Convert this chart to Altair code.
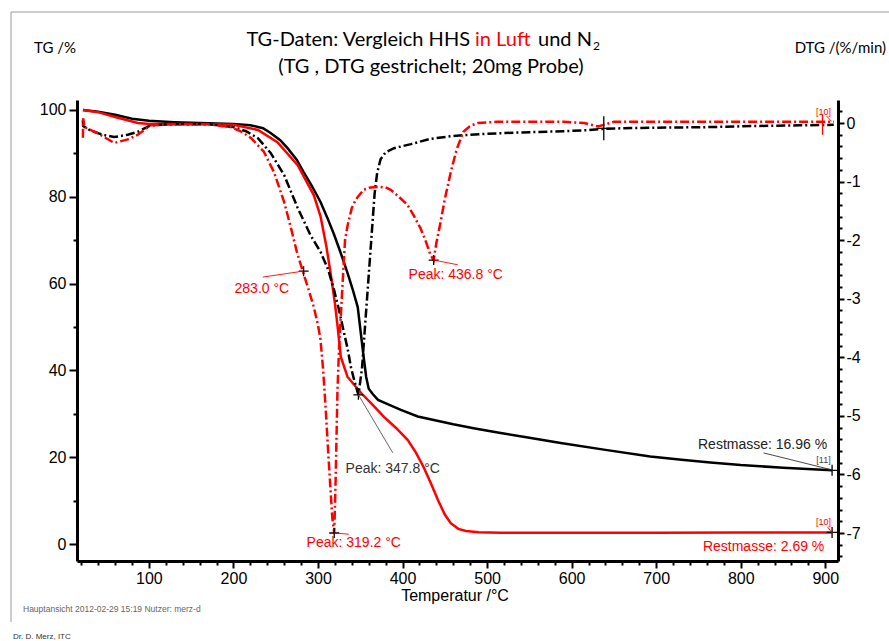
import altair as alt
import pandas as pd

# ---------------- data ----------------
# TG curve, N2 (black, solid) -- left axis, %
tg_n2_T = [22, 40, 60, 80, 100, 130, 160, 200, 220, 235, 244, 255, 264, 275, 283, 293, 303, 311, 319, 327,
           335, 341, 347, 351, 354, 357, 360, 365, 371, 383, 398, 418, 437, 460, 484, 516, 550, 587, 640, 693,
           730, 764, 800, 850, 908]
tg_n2_v = [100, 99.6, 98.9, 98.0, 97.5, 97.2, 97.0, 96.8, 96.5, 95.8, 94.7, 93.1, 91.2, 88.5, 85.7, 82.4,
           78.8, 75.2, 71.3, 67.0, 62.4, 58.7, 54.6, 48.0, 43.1, 38.5, 35.8, 34.5, 33.2, 32.2, 30.9, 29.4,
           28.6, 27.6, 26.7, 25.6, 24.5, 23.3, 21.7, 20.2, 19.4, 18.8, 18.2, 17.6, 17.0]

# TG curve, air (red, solid)
tg_air_T = [22, 40, 60, 87, 100, 130, 160, 200, 229, 252, 276, 295, 303, 310, 316, 320, 323, 327, 335, 351,
            365, 378, 392, 406, 416, 425, 434, 442, 450, 457, 466, 475, 490, 516, 600, 700, 800, 908]
tg_air_v = [100, 99.5, 98.4, 97.0, 96.8, 96.8, 96.8, 96.6, 95.4, 92.6, 87.3, 80.4, 75.5, 68.5, 61.0, 55.5,
            50.5, 43.1, 38.5, 34.8, 32.0, 29.3, 26.8, 24.0, 21.0, 17.7, 13.8, 10.1, 6.8, 4.8, 3.5, 3.0, 2.7,
            2.6, 2.6, 2.6, 2.65, 2.69]

# DTG curve, N2 (black, dash-dot) -- right axis, %/min
dtg_n2_T = [22, 22.3, 30, 45, 59, 75, 87, 102, 130, 170, 200, 215, 229, 244, 260, 276, 291, 303, 312, 319,
            325, 330, 335, 339, 343, 347.8, 352, 355, 358, 361, 364, 367, 370, 374, 380, 390, 410, 433, 460,
            492, 540, 590, 620, 638, 660, 700, 760, 820, 870, 910]
dtg_n2_v = [0.05, -0.05, -0.12, -0.2, -0.24, -0.2, -0.15, -0.04, -0.02, -0.02, -0.07, -0.14, -0.26, -0.51,
            -0.89, -1.45, -1.91, -2.2, -2.5, -2.85, -3.2, -3.53, -3.85, -4.17, -4.4, -4.64, -4.2, -3.6, -3.0,
            -2.4, -1.8, -1.2, -0.85, -0.62, -0.5, -0.43, -0.36, -0.27, -0.22, -0.19, -0.16, -0.14, -0.12,
            -0.1, -0.09, -0.08, -0.07, -0.05, -0.04, -0.03]

# DTG curve, air (red, dash-dot)
dtg_air_T = [22, 22.3, 24, 40, 59, 75, 87, 102, 130, 170, 197, 210, 221, 236, 248, 260, 268, 275, 282, 289,
             295, 300, 303, 306, 309, 312, 315, 317, 319.2, 320, 321, 322, 323, 325, 327, 330, 332, 335, 340,
             345, 354, 362, 371, 380, 386, 395, 406, 414, 421, 427, 433, 436.8, 440, 445, 450, 457, 464, 472,
             480, 489, 512, 550, 590, 615, 631, 650, 700, 800, 850, 910]
dtg_air_v = [-0.25, 0.08, -0.07, -0.18, -0.34, -0.28, -0.2, -0.04, -0.02, -0.02, -0.07, -0.15, -0.26, -0.49,
             -0.84, -1.35, -1.79, -2.2, -2.53, -2.85, -3.14, -3.45, -3.7, -4.2, -4.85, -5.6, -6.3, -6.75,
             -7.0, -6.6, -6.0, -5.3, -4.6, -3.8, -3.3, -2.5, -2.0, -1.75, -1.45, -1.3, -1.14, -1.1, -1.09,
             -1.1, -1.14, -1.25, -1.4, -1.6, -1.79, -2.0, -2.25, -2.34, -2.05, -1.69, -1.3, -0.84, -0.45,
             -0.15, -0.05, 0.0, 0.02, 0.02, 0.02, 0.0, -0.06, 0.02, 0.02, 0.02, 0.02, 0.02]

# peak markers on the DTG curves
peak_T = [283.0, 319.2, 347.8, 436.8, 638.0]
peak_v = [-2.53, -7.0, -4.64, -2.34, -0.09]

# residual mass markers on the TG curves
rest_T = [908, 908]
rest_v = [17.0, 2.69]

# ---------------- styling ----------------
RED = "#ff0000"
BLACK = "#000000"
AXFONT = "Liberation Sans"
TFONT = "Lato"
DASHDOT = [9, 3, 2, 3]

X_DOM = [15, 915]
TG_DOM = [-3.9, 102.3]
DTG_DOM = [-7.478, 0.393]

x_axis = alt.Axis(
    title=None, values=list(range(20, 901, 20)),
    labelExpr="datum.value % 100 === 0 ? datum.label : ''",
    tickSize={"condition": {"test": "datum.value % 100 === 0", "value": 7}, "value": 4},
    labelFont=AXFONT, labelFontSize=16, labelColor=BLACK, labelPadding=2,
    domainColor=BLACK, domainWidth=3, tickColor=BLACK, tickWidth=2, grid=False, labelFlush=False,
)
tg_axis = alt.Axis(
    title=None, orient="left", values=list(range(0, 101, 10)),
    labelExpr="datum.value % 20 === 0 ? datum.label : ''",
    tickSize={"condition": {"test": "datum.value % 20 === 0", "value": 8}, "value": 4},
    labelFont=AXFONT, labelFontSize=16, labelColor=BLACK, labelPadding=3,
    domainColor=BLACK, domainWidth=3, tickColor=BLACK, tickWidth=2, grid=False, labelFlush=False,
)
dtg_axis = alt.Axis(
    title=None, orient="right", values=[round(-7.4 + 0.2 * k, 1) for k in range(39)],
    labelExpr="abs(datum.value - round(datum.value)) < 0.01 ? '' + round(datum.value) : ''",
    tickSize={"condition": {"test": "abs(datum.value - round(datum.value)) < 0.01", "value": 6},
              "value": 4},
    labelFont=AXFONT, labelFontSize=16, labelColor=BLACK, labelPadding=2,
    domainColor=BLACK, domainWidth=3, tickColor=BLACK, tickWidth=2, grid=False, labelFlush=False,
)

xs = alt.Scale(domain=X_DOM, nice=False, zero=False)
tgs = alt.Scale(domain=TG_DOM, nice=False, zero=False)
dtgs = alt.Scale(domain=DTG_DOM, nice=False, zero=False)


def X(f="T"):
    return alt.X(f"{f}:Q", scale=xs, axis=x_axis)


def YT(f="v"):
    return alt.Y(f"{f}:Q", scale=tgs, axis=tg_axis)


def YD(f="v"):
    return alt.Y(f"{f}:Q", scale=dtgs, axis=dtg_axis)


def frame(t, v):
    return pd.DataFrame({"T": t, "v": v, "i": list(range(len(t)))})


def curve(t, v, yfun, color, dash=None):
    kw = dict(color=color, strokeWidth=2.5, clip=True)
    if dash:
        kw["strokeDash"] = dash
    return alt.Chart(frame(t, v)).mark_line(**kw).encode(x=X(), y=yfun(), order="i:Q")


CROSS = "M-1,0L1,0M0,-1L0,1"


def marker(t, v, yfun, color=BLACK, shape=CROSS, size=100):
    return alt.Chart(frame(t, v)).mark_point(shape=shape, filled=False, stroke=color, strokeWidth=1.3,
                                             size=size, opacity=1).encode(x=X(), y=yfun())


def dtext(s, t, v, yfun, color, size=14, align="center"):
    return alt.Chart(frame([t], [v])).mark_text(text=s, font=AXFONT, fontSize=size, color=color,
                                                align=align, baseline="middle").encode(x=X(), y=yfun())


def leader(t1, v1, t2, v2, yfun, color):
    df = pd.DataFrame({"T": [t1], "v": [v1], "T2": [t2], "v2": [v2]})
    return alt.Chart(df).mark_rule(color=color, strokeWidth=0.9).encode(
        x=X(), y=yfun(), x2="T2:Q", y2="v2:Q")


dummy = pd.DataFrame({"d": [0]})


def ptext(s, x, y, size, color=BLACK, align="center", font=TFONT):
    return alt.Chart(dummy).mark_text(text=s, font=font, fontSize=size, color=color, align=align,
                                      baseline="middle").encode(x=alt.value(x), y=alt.value(y))


def prule(x1, x2, y1, y2, color="#9a9a9a"):
    return alt.Chart(dummy).mark_rule(color=color, strokeWidth=1).encode(
        x=alt.value(x1), x2=alt.value(x2), y=alt.value(y1), y2=alt.value(y2))


# ---------------- TG layer (left axis) ----------------
tg_layer = alt.layer(
    curve(tg_n2_T, tg_n2_v, YT, BLACK),
    curve(tg_air_T, tg_air_v, YT, RED),
    marker(rest_T, rest_v, YT, BLACK, size=121),
    leader(827, 21.0, 908.5, 17.05, YT, "#333333"),
    dtext("Restmasse: 16.96 %", 825.8, 22.8, YT, "#222222"),
    dtext("[11]", 897.9, 19.4, YT, "#444444", size=9),
    leader(902.6, 3.92, 908.5, 2.53, YT, RED),
    dtext("Restmasse: 2.69 %", 827, -0.69, YT, RED),
    dtext("[10]", 897.9, 5.1, YT, RED, size=9),
)

# ---------------- DTG layer (right axis) ----------------
dtg_layer = alt.layer(
    curve(dtg_n2_T, dtg_n2_v, YD, BLACK, DASHDOT),
    curve(dtg_air_T, dtg_air_v, YD, RED, DASHDOT),
    marker(peak_T[:4], peak_v[:4], YD, BLACK),
    marker([peak_T[4]], [peak_v[4]], YD, BLACK, shape="M-0.5,0L0.5,0M0,-1L0,1", size=576),
    marker([896.7], [-0.03], YD, RED, shape="M0,-1L0,1", size=400),
    leader(282, -2.53, 234.8, -2.63, YD, RED),
    dtext("283.0 °C", 233.6, -2.83, YD, RED),
    leader(319.2, -7.0, 336.4, -7.02, YD, RED),
    dtext("Peak: 319.2 °C", 342.3, -7.17, YD, RED),
    leader(347.8, -4.64, 388.4, -5.63, YD, "#555555"),
    dtext("Peak: 347.8 °C", 388.4, -5.91, YD, "#333333"),
    leader(436.8, -2.34, 465.2, -2.42, YD, RED),
    dtext("Peak: 436.8 °C", 462.9, -2.6, YD, RED),
    leader(901.4, 0.12, 907.3, 0.03, YD, RED),
    dtext("[10]", 897.9, 0.19, YD, RED, size=9),
)

# ---------------- static texts / frame ----------------
static = alt.layer(
    prule(-66, 812, -88, -88),
    prule(-66, -66, -88, 522),
    ptext("TG-Daten: Vergleich HHS", 393, -60, 20, align="right"),
    ptext("in Luft", 398, -60, 20, color=RED, align="left"),
    ptext("und N", 461, -60, 20, align="left"),
    ptext("2", 516, -54, 12, align="left"),
    ptext("(TG , DTG gestrichelt; 20mg Probe)", 354, -33, 20),
    ptext("TG /%", -22, -52, 15),
    ptext("DTG /(%/min)", 809, -52, 15, align="right"),
    ptext("Temperatur /°C", 378, 496, 16, font=AXFONT),
    ptext("Hauptansicht   2012-02-29 15:19   Nutzer: merz-d", -54, 509, 8.5, color="#666666",
          align="left", font=AXFONT),
    ptext("Dr. D. Merz, ITC", -64, 537, 8, color="#333333", align="left", font=AXFONT),
)

chart = alt.layer(tg_layer, dtg_layer, static).resolve_scale(y="independent").properties(
    width=761, height=461,
    padding={"left": 77, "top": 100, "right": 51, "bottom": 80},
    autosize=alt.AutoSizeParams(type="none"),
    background="white",
).configure_view(strokeWidth=0)

chart.save("out.html", embed_options={"renderer": "svg", "actions": False})
